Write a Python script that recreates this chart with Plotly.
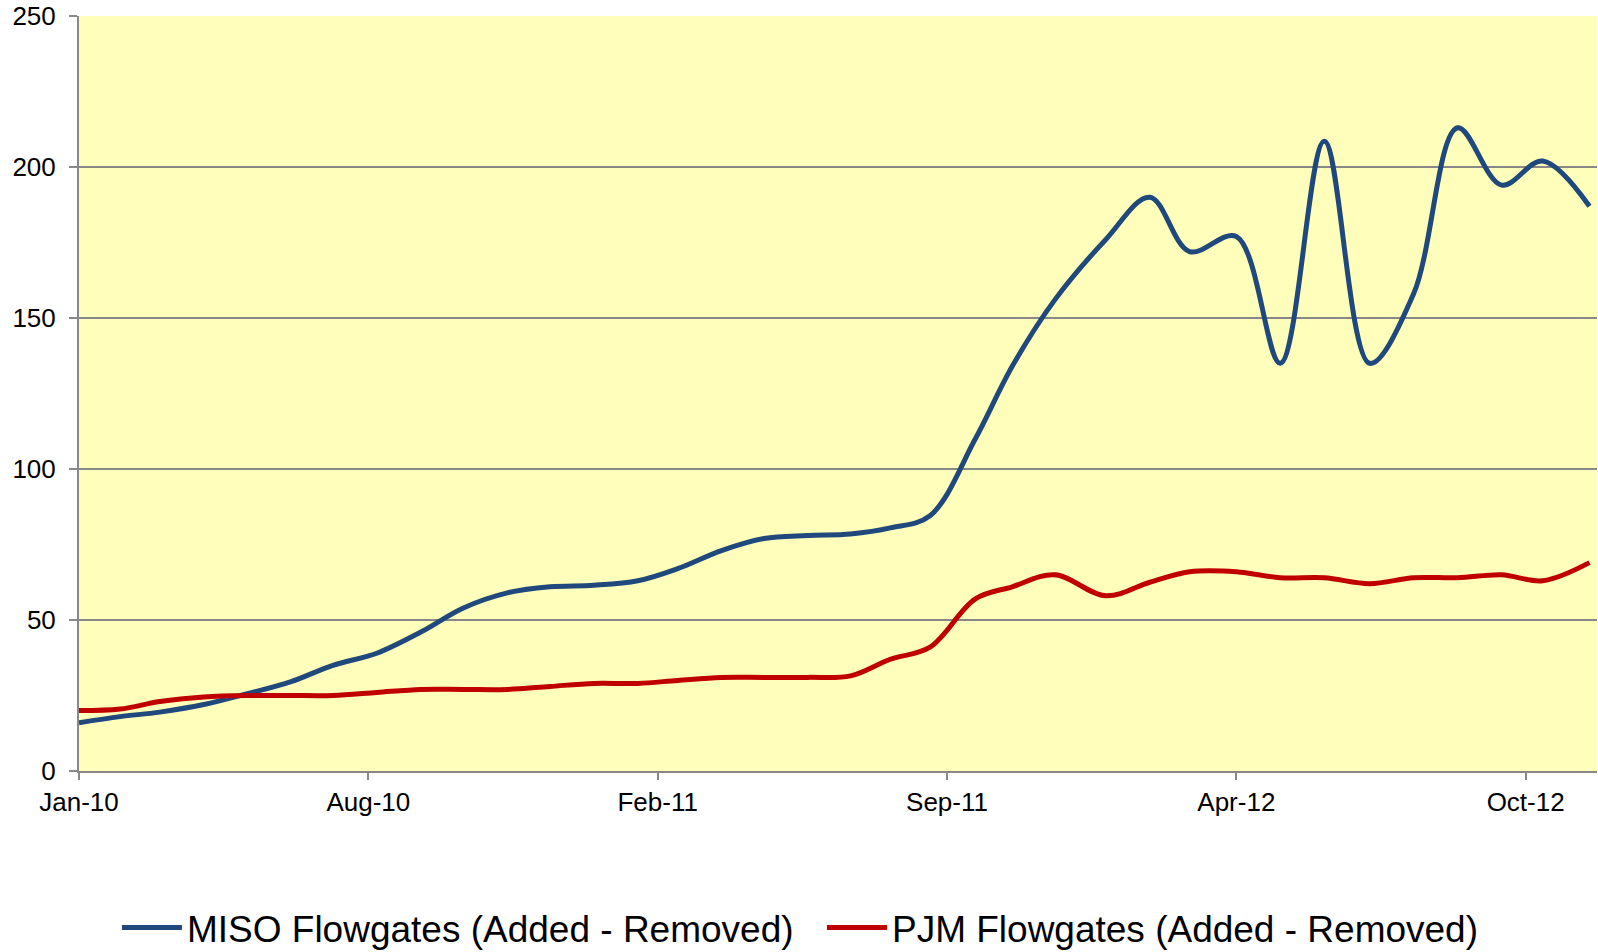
import plotly.graph_objects as go
from datetime import datetime, timedelta

# ---- data ----
dates = [
    "2010-01-15", "2010-02-13", "2010-03-13", "2010-04-13", "2010-05-13", "2010-06-13",
    "2010-07-13", "2010-08-13", "2010-09-13", "2010-10-13", "2010-11-13", "2010-12-13",
    "2011-01-13", "2011-02-13", "2011-03-13", "2011-04-13", "2011-05-13", "2011-06-13",
    "2011-07-13", "2011-08-10", "2011-09-07", "2011-10-09", "2011-11-04", "2011-12-04",
    "2012-01-09", "2012-02-09", "2012-03-08", "2012-04-10", "2012-05-11", "2012-06-11",
    "2012-07-13", "2012-08-13", "2012-09-13", "2012-10-14", "2012-11-12", "2012-12-15",
]
miso = [16, 18, 19.5, 22, 25.5, 29.5, 35, 39, 46, 54, 59, 61,
        61.5, 63, 67, 73, 77, 78, 78.5, 80.5, 84.5, 110, 134, 156,
        176, 190, 172, 177, 135, 208.5, 135, 158, 213, 194, 202, 187]
pjm = [20, 20.5, 23, 24.5, 25, 25, 25, 26, 27, 27, 27, 28,
       29, 29, 30, 31, 31, 31, 31.5, 37, 41, 57, 61, 65,
       58, 62.5, 66, 66, 64, 64, 62, 64, 64, 65, 63, 69]
series_names = ["MISO Flowgates (Added - Removed)", "PJM Flowgates (Added - Removed)"]
tick_labels = ["Jan-10", "Aug-10", "Feb-11", "Sep-11", "Apr-12", "Oct-12"]
y_ticks = [0, 50, 100, 150, 200, 250]

# ---- axis geometry ----
axis_start = datetime(2010, 1, 15)
tick_step_days = 204
tick_vals = [(axis_start + timedelta(days=tick_step_days * i)).strftime("%Y-%m-%d")
             for i in range(len(tick_labels))]
axis_end = axis_start + timedelta(days=1070.3)

BLUE = "#1F497D"
RED = "#C00000"
GRID = "#888888"

fig = go.Figure()
fig.add_trace(go.Scatter(
    x=dates, y=miso, mode="lines", name=series_names[0],
    line=dict(color=BLUE, width=5, shape="spline", smoothing=1.0),
))
fig.add_trace(go.Scatter(
    x=dates, y=pjm, mode="lines", name=series_names[1],
    line=dict(color=RED, width=5, shape="spline", smoothing=1.0),
))

fig.update_layout(
    width=1598, height=952,
    margin=dict(l=79, r=1, t=16, b=181, autoexpand=False),
    paper_bgcolor="white",
    plot_bgcolor="#FFFFBB",
    font=dict(family="Liberation Sans, Arial, sans-serif", size=26, color="black"),
    showlegend=True,
    legend=dict(
        orientation="h", x=0.025, xanchor="left", y=-0.208, yanchor="middle",
        font=dict(size=37), itemwidth=60, entrywidth=630, entrywidthmode="pixels",
        bgcolor="rgba(0,0,0,0)",
    ),
)
fig.update_xaxes(
    type="date", range=[axis_start, axis_end],
    tickmode="array", tickvals=tick_vals, ticktext=tick_labels,
    ticks="outside", ticklen=7, tickwidth=1.5, tickcolor=GRID,
    showline=True, linecolor=GRID, linewidth=2,
    showgrid=False, zeroline=False,
    tickfont=dict(size=26),
)
fig.update_yaxes(
    range=[0, 250], tickmode="array", tickvals=y_ticks,
    ticks="outside", ticklen=8, tickwidth=1.5, tickcolor=GRID,
    showline=True, linecolor=GRID, linewidth=2,
    showgrid=True, gridcolor=GRID, gridwidth=1.5,
    zeroline=False, tickfont=dict(size=26), ticklabelstandoff=8,
)

fig.write_html(
    "out.html",
    config={"displayModeBar": False},
    post_script="document.body.style.margin='0';document.body.style.overflow='hidden';",
)
